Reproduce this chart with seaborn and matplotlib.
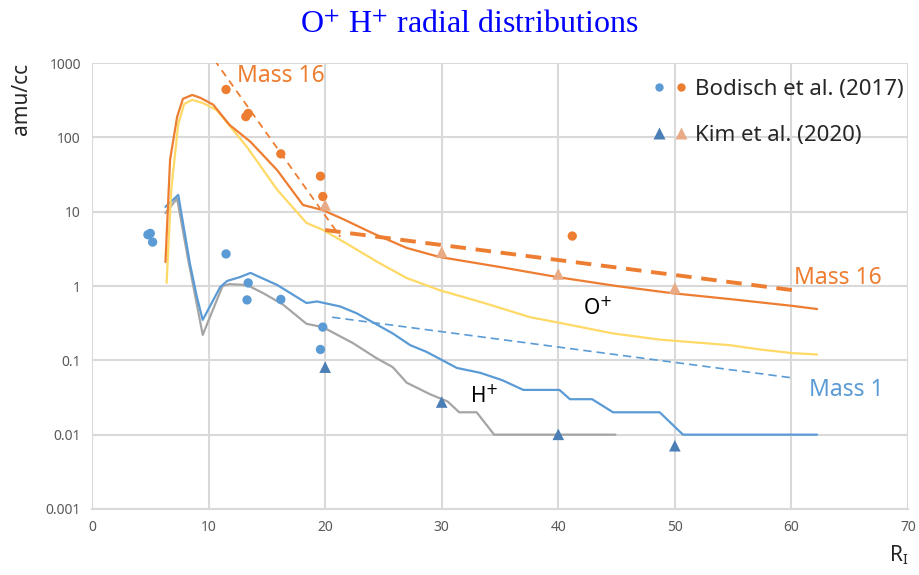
import matplotlib
matplotlib.use("Agg")
import matplotlib.pyplot as plt
import seaborn as sns
import pandas as pd
from matplotlib.lines import Line2D
from matplotlib.legend_handler import HandlerTuple

# ---------------- data ----------------
o_tot_x = [6.3, 6.7, 7.3, 7.8, 8.6, 9.3, 10.4, 11.8, 13.6, 15.9, 18.1, 19.8, 21.5, 24.0, 27.0, 29.8, 35.0, 39.9, 45.0, 49.8, 55.0, 60.1, 62.2]
o_tot_y = [2.1, 50, 188, 330, 372, 340, 275, 147, 87, 36, 12.3, 10.5, 8.0, 5.2, 3.25, 2.46, 1.8, 1.32, 1.0, 0.80, 0.66, 0.54, 0.49]

o_plus_x = [6.4, 6.8, 7.4, 7.9, 8.6, 9.5, 10.7, 13.3, 15.9, 18.4, 19.8, 22.0, 24.5, 27.0, 29.8, 33.5, 37.6, 40.1, 44.7, 48.7, 54.7, 57.3, 60.1, 62.2]
o_plus_y = [1.1, 20, 150, 280, 320, 290, 233, 74, 19.6, 7.05, 5.7, 3.6, 2.1, 1.28, 0.88, 0.6, 0.38, 0.32, 0.23, 0.19, 0.16, 0.14, 0.125, 0.12]

h_a_x = [6.3, 7.4, 8.4, 9.0, 9.5, 11.0, 11.6, 12.7, 13.6, 15.9, 18.4, 19.3, 21.3, 22.7, 25.8, 27.3, 28.7, 31.3, 33.3, 35.2, 37.0, 40.1, 41.0, 42.9, 44.7, 48.7, 50.7, 62.2]
h_a_y = [11.6, 16.8, 2.0, 0.71, 0.35, 0.97, 1.17, 1.32, 1.5, 1.03, 0.59, 0.62, 0.53, 0.43, 0.23, 0.16, 0.13, 0.079, 0.068, 0.054, 0.04, 0.04, 0.03, 0.03, 0.02, 0.02, 0.01, 0.01]

h_b_x = [6.3, 7.3, 8.2, 9.5, 11.2, 11.8, 13.3, 14.7, 16.4, 18.4, 19.8, 22.4, 24.4, 25.8, 27.0, 29.0, 30.5, 31.5, 33.0, 34.5, 44.9]
h_b_y = [9.6, 15.0, 2.5, 0.22, 1.0, 1.06, 1.03, 0.8, 0.56, 0.31, 0.28, 0.17, 0.107, 0.081, 0.05, 0.035, 0.028, 0.02, 0.02, 0.01, 0.01]

m16_steep_x = [10.5, 21.3]
m16_steep_y = [1100, 4.6]
m16_flat_x = [20.0, 60.1]
m16_flat_y = [5.66, 0.88]
m1_x = [20.6, 60.1]
m1_y = [0.38, 0.058]

bod_h_x = [4.8, 5.0, 5.2, 11.5, 13.4, 13.3, 16.2, 19.8, 19.6]
bod_h_y = [4.9, 5.1, 3.9, 2.7, 1.1, 0.65, 0.66, 0.28, 0.14]
bod_o_x = [11.5, 13.2, 13.4, 16.2, 19.6, 19.8, 41.2]
bod_o_y = [440, 190, 210, 60, 30, 16, 4.7]

kim_h_x = [20, 30, 40, 50]
kim_h_y = [0.081, 0.0275, 0.0101, 0.0071]
kim_o_x = [20, 30, 40, 50]
kim_o_y = [12.3, 2.87, 1.45, 0.94]

y_ticks = [0.001, 0.01, 0.1, 1, 10, 100, 1000]
y_tick_labels = ["0.001", "0.01", "0.1", "1", "10", "100", "1000"]
x_ticks = [0, 10, 20, 30, 40, 50, 60, 70]

# ---------------- style ----------------
sns.set_theme(style="white")
plt.rcParams["font.family"] = ["Noto Sans", "DejaVu Sans"]
plt.rcParams["mathtext.fontset"] = "dejavusans"

ORANGE = "#ED7D31"
GOLD = "#FFD966"
BLUE = "#5B9BD5"
GREY = "#A5A5A5"
KIM_BLUE = "#4A7EB5"
KIM_ORANGE = "#E8AB86"

fig = plt.figure(figsize=(9.19, 5.75), dpi=100)
ax = fig.add_axes([0.1001, 0.1148, 0.8879, 0.7756])

def line(x, y, color, lw, dashes=None, z=2):
    df = pd.DataFrame({"x": x, "y": y})
    sns.lineplot(data=df, x="x", y="y", ax=ax, color=color, lw=lw,
                 estimator=None, sort=False, zorder=z)
    l = ax.lines[-1]
    if dashes is not None:
        l.set_dashes(dashes)
    return l

line(h_b_x, h_b_y, GREY, 1.6)
line(h_a_x, h_a_y, BLUE, 1.6)
line(o_plus_x, o_plus_y, GOLD, 1.6)
line(o_tot_x, o_tot_y, ORANGE, 1.6)
line(m16_steep_x, m16_steep_y, ORANGE, 1.3, dashes=(4, 3))
line(m16_flat_x, m16_flat_y, ORANGE, 2.8, dashes=(4, 2.5))
line(m1_x, m1_y, BLUE, 1.2, dashes=(5, 3))

sns.scatterplot(x=bod_h_x, y=bod_h_y, ax=ax, color=BLUE, s=45, edgecolor="none", zorder=4)
sns.scatterplot(x=bod_o_x, y=bod_o_y, ax=ax, color=ORANGE, s=45, edgecolor="none", zorder=4)
sns.scatterplot(x=kim_h_x, y=kim_h_y, ax=ax, color=KIM_BLUE, marker="^", s=70, edgecolor="none", zorder=4)
sns.scatterplot(x=kim_o_x, y=kim_o_y, ax=ax, color=KIM_ORANGE, marker="^", s=70, edgecolor="none", zorder=4)

ax.set_yscale("log")
ax.set_xlim(0, 70)
ax.set_ylim(0.001, 1000)
ax.set_yticks(y_ticks)
ax.set_yticklabels(y_tick_labels)
ax.set_xticks(x_ticks)
ax.minorticks_off()
ax.tick_params(axis="both", length=0, labelsize=10, labelcolor="#595959", pad=8)
ax.grid(True, color="#D9D9D9", lw=1.5)
for s in ax.spines.values():
    s.set_visible(False)
ax.spines["bottom"].set_visible(True)
ax.spines["bottom"].set_color("#D9D9D9")
ax.spines["bottom"].set_linewidth(1.5)

ax.set_xlabel(r"R$_\mathregular{I}$", loc="right", fontsize=15, labelpad=6)
ax.set_ylabel("amu/cc", loc="top", fontsize=15, labelpad=10)

ax.text(16.2, 670, "Mass 16", color=ORANGE, fontsize=16.5, ha="center", va="center")
ax.text(64.0, 1.3, "Mass 16", color=ORANGE, fontsize=16.5, ha="center", va="center")
ax.text(64.7, 0.04, "Mass 1", color=BLUE, fontsize=16.5, ha="center", va="center")
ax.text(43.4, 0.5, r"O$^{+}$", color="black", fontsize=15, ha="center", va="center")
ax.text(33.6, 0.033, r"H$^{+}$", color="black", fontsize=15, ha="center", va="center")

fig.text(0.51, 0.956, r"O$^{+}$ H$^{+}$ radial distributions", color="#0000FF",
         fontsize=23, ha="center", va="center", family="Liberation Serif",
         math_fontfamily="stix")

h1 = (Line2D([], [], ls="none", marker="o", color=BLUE, markersize=6, mec="none"),
      Line2D([], [], ls="none", marker="o", color=ORANGE, markersize=6, mec="none"))
h2 = (Line2D([], [], ls="none", marker="^", color=KIM_BLUE, markersize=8, mec="none"),
      Line2D([], [], ls="none", marker="^", color=KIM_ORANGE, markersize=8, mec="none"))
ax.legend([h1, h2], ["Bodisch et al. (2017)", "Kim et al. (2020)"],
          handler_map={tuple: HandlerTuple(ndivide=None, pad=0.6)},
          loc="upper left", bbox_to_anchor=(0.665, 1.01), frameon=False,
          fontsize=16, handlelength=1.4, handletextpad=0.4, labelspacing=1.15)

fig.savefig("out.png", dpi=100)
